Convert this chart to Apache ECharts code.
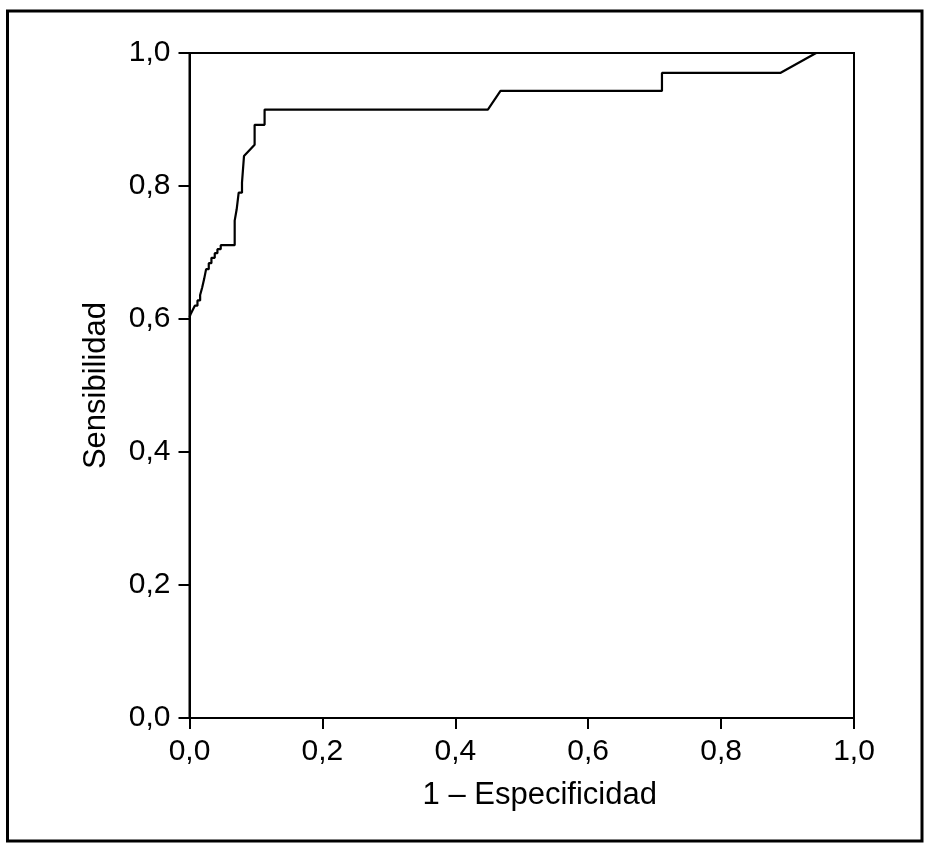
<!DOCTYPE html>
<html>
<head>
<meta charset="utf-8">
<script src="https://cdn.jsdelivr.net/npm/echarts@6/dist/echarts.min.js"></script>
<style>
  html, body { margin: 0; padding: 0; background: #fff; }
  #chart { width: 930px; height: 848px; }
</style>
</head>
<body>
<div id="chart"></div>
<script>
// ROC curve: 1 - specificity (x) vs sensitivity (y)
var fpr = [0.000, 0.002, 0.005, 0.005, 0.008, 0.008, 0.012, 0.012, 0.016, 0.016,
  0.019, 0.019, 0.022, 0.022, 0.025, 0.025, 0.029, 0.029, 0.033, 0.033,
  0.038, 0.038, 0.042, 0.042, 0.047, 0.047, 0.068, 0.068, 0.071, 0.071,
  0.074, 0.074, 0.079, 0.079, 0.082, 0.082, 0.098, 0.098, 0.113, 0.113,
  0.449, 0.468, 0.711, 0.711, 0.889, 0.943, 1.000]
var tpr = [0.603, 0.608, 0.608, 0.614, 0.614, 0.620, 0.620, 0.628, 0.628, 0.636,
  0.636, 0.647, 0.647, 0.660, 0.660, 0.675, 0.675, 0.684, 0.684, 0.692,
  0.692, 0.699, 0.699, 0.705, 0.705, 0.711, 0.711, 0.748, 0.748, 0.765,
  0.765, 0.790, 0.790, 0.805, 0.805, 0.845, 0.862, 0.892, 0.892, 0.915,
  0.915, 0.943, 0.943, 0.970, 0.970, 1.000, 1.000]
var tickLabels = ['0,0', '0,2', '0,4', '0,6', '0,8', '1,0']

var font = '"Liberation Sans", Arial, Helvetica, sans-serif'
var points = fpr.map(function (x, i) { return [x, tpr[i]] })

function fmt(v) {
  var i = Math.round(v * 5)
  return tickLabels[i] !== undefined ? tickLabels[i] : ''
}

var chart = echarts.init(document.getElementById('chart'))
chart.setOption({
  animation: false,
  backgroundColor: '#fff',
  graphic: [{
    type: 'rect',
    shape: { x: 7.5, y: 11, width: 914.5, height: 830 },
    style: { fill: 'none', stroke: '#000', lineWidth: 3 }
  }],
  grid: {
    left: 189.5,
    right: 76,
    top: 53,
    bottom: 130,
    show: true,
    borderColor: '#000',
    borderWidth: 2,
    backgroundColor: 'transparent'
  },
  xAxis: {
    type: 'value',
    min: 0,
    max: 1,
    interval: 0.2,
    name: '1 – Especificidad',
    nameLocation: 'middle',
    nameGap: 62,
    nameTextStyle: { color: '#000', fontSize: 31, fontFamily: font, padding: [0, 0, 0, 36] },
    axisLine: { show: true, lineStyle: { color: '#000', width: 2 } },
    axisTick: { show: true, inside: false, length: 11, lineStyle: { color: '#000', width: 2 } },
    axisLabel: { color: '#000', fontSize: 30, fontFamily: font, margin: 19, formatter: fmt },
    splitLine: { show: false }
  },
  yAxis: {
    type: 'value',
    min: 0,
    max: 1,
    interval: 0.2,
    name: 'Sensibilidad',
    nameLocation: 'middle',
    nameGap: 78,
    nameTextStyle: { color: '#000', fontSize: 31, fontFamily: font },
    axisLine: { show: true, lineStyle: { color: '#000', width: 2 } },
    axisTick: { show: true, inside: false, length: 11, lineStyle: { color: '#000', width: 2 } },
    axisLabel: { color: '#000', fontSize: 30, fontFamily: font, margin: 19, formatter: fmt },
    splitLine: { show: false }
  },
  series: [{
    type: 'line',
    data: points,
    symbol: 'none',
    lineStyle: { color: '#000', width: 2.2 },
    clip: false
  }]
})
</script>
</body>
</html>
